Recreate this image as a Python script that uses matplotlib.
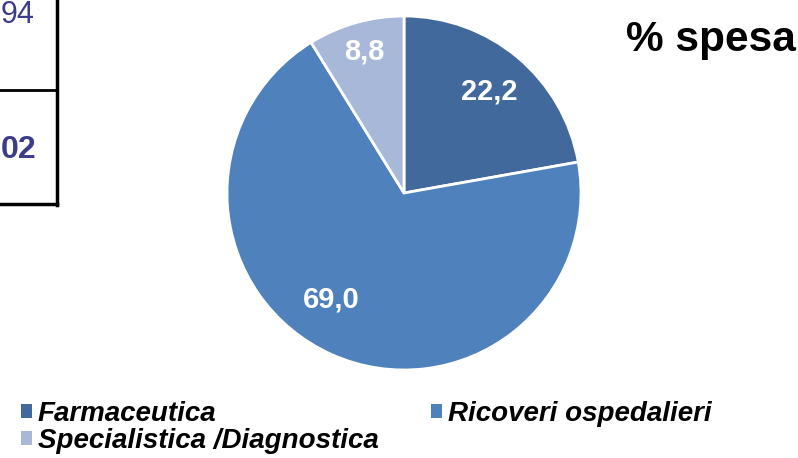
import numpy as np
import matplotlib.pyplot as plt

# data
categories = ["Farmaceutica", "Ricoveri ospedalieri", "Specialistica /Diagnostica"]
values = [22.2, 69.0, 8.8]
value_labels = ["22,2", "69,0", "8,8"]
colors = ["#41699b", "#4f81bd", "#a8b8d8"]
table_texts = ["94", "02"]

W, H = 798, 458
fig = plt.figure(figsize=(W / 100, H / 100), dpi=100)
ax = fig.add_axes([0, 0, 1, 1])

wedges, _ = ax.pie(values, colors=colors, startangle=90, counterclock=False,
                   center=(404, H - 193), radius=177,
                   wedgeprops=dict(edgecolor="white", linewidth=2))
ax.set_xlim(0, W)
ax.set_ylim(0, H)
ax.set_aspect("equal")
ax.axis("off")

# value labels inside slices (distance as fraction of radius, angle shift in degrees)
label_dist = [0.75, 0.73, 0.83]
label_shift = [0, -10, 0]
for w, lab, d, s in zip(wedges, value_labels, label_dist, label_shift):
    ang = np.deg2rad((w.theta1 + w.theta2) / 2 + s)
    x = w.center[0] + d * w.r * np.cos(ang)
    y = w.center[1] + d * w.r * np.sin(ang)
    ax.text(x, y, lab, color="white", fontsize=21, fontweight="bold",
            family="Liberation Sans", ha="center", va="center")

# title
ax.text(796, H - 40, "% spesa", fontsize=30.5, fontweight="bold",
        family="Liberation Sans", ha="right", va="center", color="black")

# fragment of the table on the left
ax.plot([57, 57], [H, H - 205], color="black", lw=2.5)
ax.plot([0, 57], [H - 90, H - 90], color="black", lw=2)
ax.plot([0, 57], [H - 204, H - 204], color="black", lw=2.5)
ax.text(35, H - 15, table_texts[0], fontsize=22, color="#3c3c8c",
        family="Liberation Sans", ha="right", va="center")
ax.text(36, H - 150, table_texts[1], fontsize=23, color="#3c3c8c", fontweight="bold",
        family="Liberation Sans", ha="right", va="center")

# legend
order = [0, 2, 1]
leg = ax.legend([wedges[i] for i in order], [categories[i] for i in order],
                ncol=2, loc="upper left", bbox_to_anchor=(21 / W, 1 - 401 / H),
                frameon=False, handlelength=0.4, handleheight=0.4,
                handletextpad=0.2, columnspacing=1.9, labelspacing=0.05,
                borderaxespad=0, borderpad=0,
                prop=dict(family="Liberation Sans", weight="bold",
                          style="italic", size=20))
for h in leg.legend_handles:
    h.set_edgecolor("none")

fig.savefig("out.png", dpi=100)
